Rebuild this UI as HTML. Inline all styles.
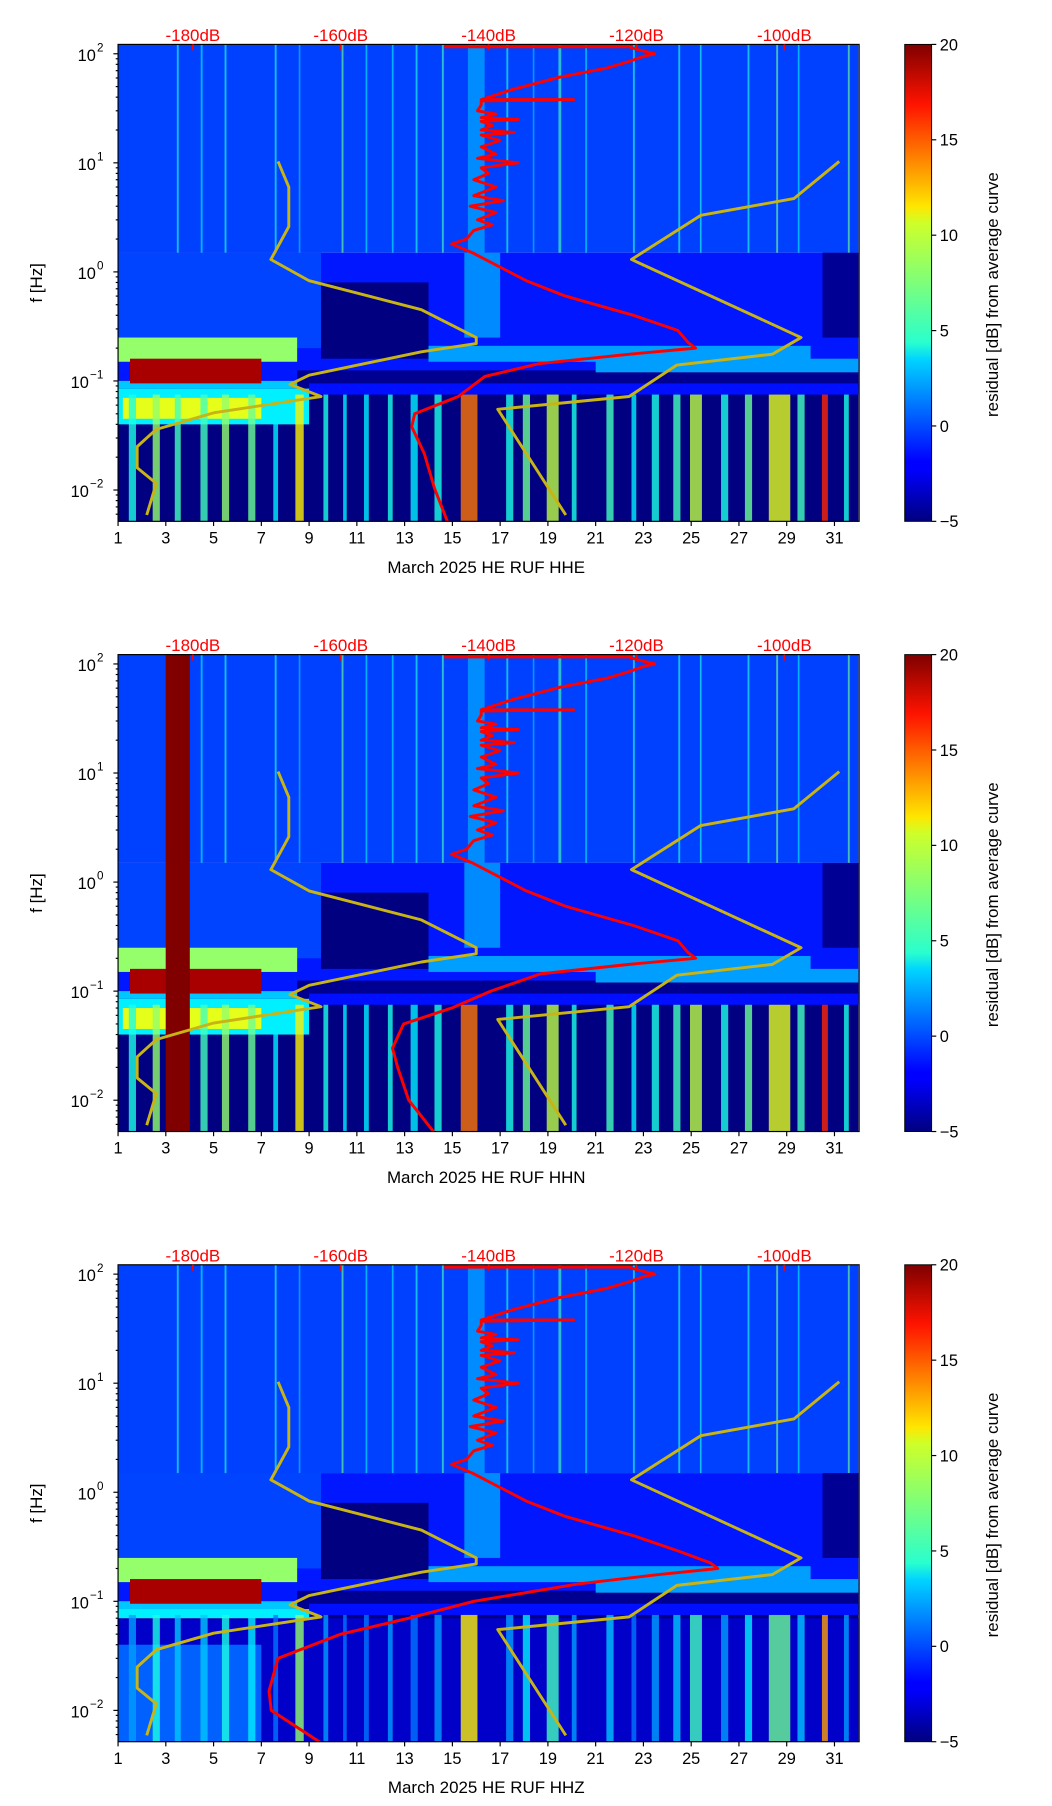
<!DOCTYPE html>
<html><head><meta charset="utf-8"><style>
html,body{margin:0;padding:0;background:#fff}
svg{display:block;font-family:"Liberation Sans","DejaVu Sans",sans-serif}
</style></head><body>
<svg id="fig" width="1052" height="1806" viewBox="0 0 900 1545" preserveAspectRatio="none" xmlns="http://www.w3.org/2000/svg">
<defs>
<linearGradient id="jet" x1="0" y1="1" x2="0" y2="0">
<stop offset="0" stop-color="#00007f"/><stop offset="0.11" stop-color="#0000ff"/><stop offset="0.125" stop-color="#0000ff"/>
<stop offset="0.34" stop-color="#00d4ff"/><stop offset="0.375" stop-color="#29ffce"/><stop offset="0.5" stop-color="#7dff7a"/>
<stop offset="0.625" stop-color="#ceff29"/><stop offset="0.66" stop-color="#ffe600"/><stop offset="0.875" stop-color="#ff1300"/><stop offset="1" stop-color="#7f0000"/>
</linearGradient>
</defs>
</svg>
<script>
// ---- data ----
const xTicks=[1,3,5,7,9,11,13,15,17,19,21,23,25,27,29,31];
const yTickExp=[2,1,0,-1,-2];
const dbTicks=[-180,-160,-140,-120,-100];
const cbTicks=[20,15,10,5,0,-5];
const channels=["HHE","HHN","HHZ"];
// yellow model curves [day, freq]
const lowModel=[[7.7,10.3],[8.15,6],[8.15,2.6],[7.4,1.3],[9.0,0.83],[13.7,0.45],[16.0,0.25],[16.0,0.22],[13.7,0.185],[9.0,0.113],[8.2,0.093],[9.5,0.072],[5.0,0.051],[2.6,0.036],[1.8,0.025],[1.8,0.016],[2.6,0.0115],[2.2,0.0059]];
const highModel=[[31.2,10.3],[29.3,4.7],[25.4,3.3],[22.5,1.3],[29.6,0.25],[28.4,0.176],[24.4,0.14],[22.4,0.072],[16.9,0.055],[19.75,0.0059]];
// red average curve [freq, dB]
const redTop=[[116,-146],[116,-121],[110,-120],[100,-117.5],[95,-119],[85,-121],[74,-124],[61,-130.4],[47,-136.8],[38,-141],[38,-128.5],[37,-141],[34,-141],[30,-141.5],[28,-139],[26,-141],[25,-136],[24,-141],[22,-139.5],[20,-141],[19,-136.5],[18,-141],[16,-138.5],[14,-141],[12,-139],[11,-141.5],[10,-136],[9,-141],[8,-140],[7,-142],[6,-139],[5,-142],[4.5,-138],[4,-142.5],[3.5,-139],[3,-141.5],[2.7,-139.5],[2.4,-142],[2,-143],[1.8,-145],[1.5,-142.2],[0.83,-134.9],[0.6,-129.6],[0.4,-120.4],[0.29,-114.4]];
const redPeak=[-113,-113,-110];
const redLow=[
 [[0.176,-120.9],[0.144,-133.2],[0.11,-140.5],[0.072,-144.1],[0.05,-150],[0.038,-150.4],[0.0216,-148.7],[0.0103,-147.3],[0.005,-145.5]],
 [[0.176,-121],[0.144,-133],[0.1,-139.7],[0.07,-145],[0.05,-151.5],[0.03,-153],[0.02,-152.3],[0.01,-150.8],[0.005,-147.3]],
 [[0.176,-117],[0.144,-128],[0.1,-142],[0.07,-150.8],[0.05,-160],[0.03,-168.5],[0.015,-169.7],[0.01,-169.4],[0.005,-162.6]]
];
// residual patches [day0, day1, f0, f1, dB]
const patchesCommon=[[1,32,1.5,122,-0.3],[1,32,0.1,1.5,-1.3],[1,9.5,0.2,1.5,-0.2],[15.5,17,0.25,1.5,1.5],[9.5,14,0.16,0.8,-5],[30.5,32,0.25,1.5,-4.5],[1,32,0.005,0.1,-5],[8.5,32,0.085,0.125,-4.6],[14,30,0.15,0.21,2],[21,32,0.12,0.16,2],[9,32,0.075,0.095,-1.5],[1,8.5,0.085,0.1,3],[1,8.5,0.15,0.25,8],[1,9,0.04,0.085,4],[1.5,7,0.095,0.16,19],[1.2,7,0.045,0.07,10]];
const patchesExtra=[[],[[3,4,0.005,122,20]],[[1,32,0.005,0.07,-3.2],[1,7,0.005,0.04,0.5]]];
// low-frequency stripes [day, width, dB]
const lowStripes=[[1.6,0.3,5],[2.6,0.3,8],[3.5,0.25,6],[4.6,0.3,6],[5.5,0.3,8],[6.6,0.3,7],[7.6,0.2,4],[8.6,0.35,11],[9.7,0.2,5],[10.5,0.15,4],[11.4,0.2,4],[12.4,0.2,5],[13.4,0.3,4],[14.4,0.3,5],[15.7,0.7,14],[17.4,0.3,5],[18.1,0.3,7],[19.2,0.5,9],[20.1,0.2,5],[21.6,0.3,6],[22.6,0.2,4],[23.5,0.3,5],[24.4,0.3,6],[25.2,0.5,9],[26.4,0.3,5],[27.4,0.3,7],[28.7,0.9,10],[29.6,0.3,6],[30.6,0.25,16],[31.5,0.2,5]];
// high-frequency stripes [day, width, dB]
const highStripes=[[3.5,0.08,5],[4.5,0.08,4],[5.5,0.08,5],[7.6,0.08,5],[8.6,0.07,3],[10.4,0.08,7],[11.4,0.07,4],[12.5,0.07,4],[13.5,0.08,5],[14.6,0.08,6],[16.0,0.7,2.5],[17.3,0.08,5],[18.4,0.07,3],[19.5,0.12,6],[20.6,0.07,4],[22.6,0.08,5],[24.5,0.08,5],[25.4,0.07,5],[27.4,0.08,5],[28.6,0.08,7],[29.5,0.07,4],[31.6,0.08,7]];

// ---- helpers ----
const NS="http://www.w3.org/2000/svg";
const svg=document.getElementById('fig');
const L=101,R=735,H=408;
function X(d){return L+(d-1)*20.43;}
function XdB(db){return 165+(db+180)*6.325;}
function Yf(f,top){return top+8+(2-Math.log10(f))*93.3;}
function jet(v){let t=Math.max(0,Math.min(1,(v+5)/25));const c=x=>Math.round(255*Math.max(0,Math.min(1,1.5-Math.abs(4*t-x))));return `rgb(${c(3)},${c(2)},${c(1)})`;}
function mk(tag,attrs,parent){const e=document.createElementNS(NS,tag);for(const k in attrs)e.setAttribute(k,attrs[k]);(parent||svg).appendChild(e);return e;}

channels.forEach((ch,pi)=>{
  const top=38+pi*522, bot=top+H;
  const g=mk('g',{});
  
  
  const cp=mk('clipPath',{id:'clip'+pi},g);
  mk('rect',{x:L,y:top,width:R-L,height:H},cp);
  const plot=mk('g',{'clip-path':`url(#clip${pi})`},g);
  
  
  const fy=f=>Math.min(bot,Math.max(top,Yf(f,top)));
  const patches=patchesCommon.concat(patchesExtra[pi]);
  patches.forEach(p=>{
    const r=mk('rect',{x:X(p[0]),y:fy(p[3]),width:X(p[1])-X(p[0]),height:fy(p[2])-fy(p[3]),fill:jet(p[4])},plot);
    
    
  });
  highStripes.forEach(s=>{
    const r=mk('rect',{x:X(s[0]-s[1]/2),y:top,width:Math.max(1,X(s[0]+s[1]/2)-X(s[0]-s[1]/2)),height:fy(1.5)-top,fill:jet(s[2]),opacity:0.65},plot);
    
    
  });
  lowStripes.forEach(s=>{
    const v=pi===2?s[2]-3:s[2];
    const r=mk('rect',{x:X(s[0]-s[1]/2),y:fy(0.075),width:X(s[0]+s[1]/2)-X(s[0]-s[1]/2),height:bot-fy(0.075),fill:jet(v),opacity:0.8},plot);
    
    
  });
  if(pi===1){const r=mk('rect',{x:X(3),y:top,width:X(4)-X(3),height:H,fill:jet(20)},plot);}
  [lowModel,highModel].forEach((m,mi)=>{
    const pl=mk('polyline',{points:m.map(p=>X(p[0])+','+Yf(p[1],top)).join(' '),fill:'none',stroke:'#c8b414','stroke-width':2.5,'stroke-linejoin':'round'},plot);
    
    
  });
  const red=redTop.concat([[0.225,redPeak[pi]],[0.2,redPeak[pi]+1]]).concat(redLow[pi]);
  const rc=mk('polyline',{points:red.map(p=>XdB(p[1])+','+Math.max(top+2,Yf(p[0],top))).join(' '),fill:'none',stroke:'#ff0000','stroke-width':2.5,'stroke-linejoin':'round'},plot);
  
  
  mk('rect',{x:L,y:top,width:R-L,height:H,fill:'none',stroke:'#000','stroke-width':1},g);
  xTicks.forEach(d=>{
    mk('line',{x1:X(d),x2:X(d),y1:bot,y2:bot+4,stroke:'#000'},g);
    const t=mk('text',{x:X(d),y:bot+19,'font-size':14,'text-anchor':'middle'},g);t.textContent=d;
    
  });
  const xt=mk('text',{x:(L+R)/2-2,y:bot+44,'font-size':14.5,'text-anchor':'middle'},g);
  xt.textContent='March 2025 HE RUF  '+ch;
  
  yTickExp.forEach(e=>{
    const y=Yf(Math.pow(10,e),top);
    mk('line',{x1:L-4,x2:L,y1:y,y2:y,stroke:'#000'},g);
    const t=mk('text',{x:e<0?L-25:L-19,y:y+6,'font-size':14,'text-anchor':'end'},g);t.textContent='10';
    
    const s=mk('text',{x:e<0?L-24:L-18,y:y-2,'font-size':10,'text-anchor':'start'},g);s.textContent=e<0?'\u2212'+(-e):String(e);
    for(let k=2;k<10;k++){const yy=Yf(k*Math.pow(10,e-1),top);if(yy<=bot&&yy>=top)mk('line',{x1:L-2,x2:L,y1:yy,y2:yy,stroke:'#000'},g);}
  });
  const yt=mk('text',{x:0,y:0,'font-size':14.5,'text-anchor':'middle',transform:`translate(36,${top+204}) rotate(-90)`},g);
  yt.textContent='f [Hz]';
  dbTicks.forEach(db=>{
    mk('line',{x1:XdB(db),x2:XdB(db),y1:top,y2:top+5,stroke:'#ff0000','stroke-width':1.5},g);
    const t=mk('text',{x:XdB(db),y:top-3,'font-size':14.5,'text-anchor':'middle',fill:'#ff0000'},g);t.textContent=db+'dB';
    
  });
  const cx=774,cw=23;
  const cb=mk('rect',{x:cx,y:top,width:cw,height:H,fill:'url(#jet)',stroke:'#000','stroke-width':0.8},g);
  
  cbTicks.forEach(v=>{
    const y=top+(20-v)/25*H;
    mk('line',{x1:cx+cw,x2:cx+cw+4,y1:y,y2:y,stroke:'#000'},g);
    const t=mk('text',{x:cx+cw+7,y:y+5,'font-size':14},g);t.textContent=v<0?'\u2212'+(-v):v;
    
  });
  const ct=mk('text',{x:0,y:0,'font-size':14.5,'text-anchor':'middle',transform:`translate(854,${top+H/2+10}) rotate(-90)`},g);
  ct.textContent='residual [dB] from average curve';
  
});
</script>
</body></html>
